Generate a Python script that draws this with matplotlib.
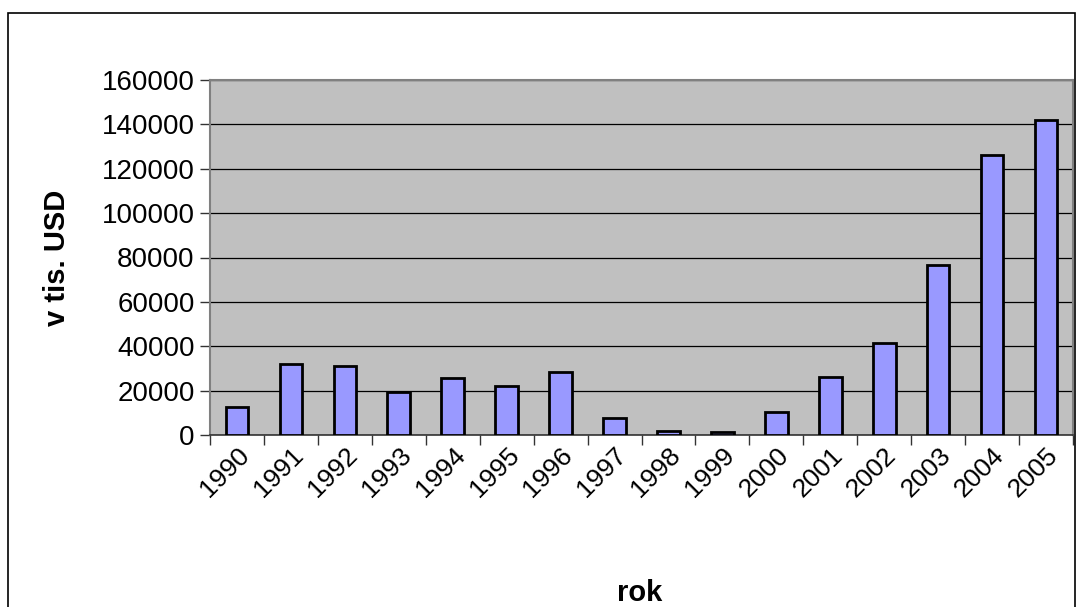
import matplotlib.pyplot as plt
from matplotlib.patches import Rectangle
import numpy as np

plt.rcParams['font.family'] = ['Liberation Sans', 'DejaVu Sans']

years = ['1990', '1991', '1992', '1993', '1994', '1995', '1996', '1997',
         '1998', '1999', '2000', '2001', '2002', '2003', '2004', '2005']
values = [12700, 31900, 31000, 19500, 25500, 22000, 28400, 7500,
          1700, 1300, 10200, 26300, 41600, 76400, 126000, 141900]

fig = plt.figure(figsize=(10.77, 6.07), dpi=100)
fig.patches.append(Rectangle((8 / 1077, -0.1), 1067 / 1077, 1.1 - 13 / 607,
                             transform=fig.transFigure, fill=False,
                             edgecolor='black', linewidth=1.2))

ax = fig.add_axes([210 / 1077, 1 - 435 / 607, 863 / 1077, 355 / 607])
ax.set_facecolor('#C0C0C0')
x = np.arange(len(years))
ax.bar(x, values, width=0.42, color='#9999FF', edgecolor='black',
       linewidth=2.0, zorder=3)

ax.set_xlim(-0.5, len(years) - 0.5)
ax.set_ylim(0, 160000)
ax.set_yticks(range(0, 160001, 20000))
ax.yaxis.grid(True, color='black', linewidth=0.9, zorder=1)
ax.set_axisbelow(True)

ax.set_xticks(np.arange(-0.5, len(years), 1))
ax.set_xticklabels([])
ax.set_xticks(x, minor=True)
ax.set_xticklabels(years, minor=True, rotation=45, ha='right',
                   rotation_mode='anchor', fontsize=19)
ax.tick_params(axis='x', which='minor', length=0, pad=6)
ax.tick_params(axis='x', which='major', length=7, width=1, color='#333333')
ax.tick_params(axis='y', length=7, width=1, color='#333333', labelsize=20, pad=4)

for s in ['top', 'right', 'left']:
    ax.spines[s].set_color('#808080')
    ax.spines[s].set_linewidth(1.5)
ax.spines['bottom'].set_color('#333333')
ax.spines['bottom'].set_linewidth(1.2)

fig.text(640 / 1077, 1 - 593 / 607, 'rok', fontsize=21, fontweight='bold',
         ha='center', va='center')
fig.text(57 / 1077, 1 - 258 / 607, 'v tis. USD', fontsize=21, fontweight='bold',
         ha='center', va='center', rotation=90)

fig.savefig('out.png', dpi=100)
